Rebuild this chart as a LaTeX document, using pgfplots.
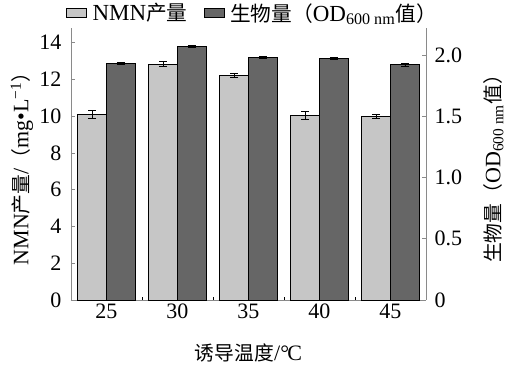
\documentclass[border=0pt]{standalone}
\usepackage{fontspec}
\setmainfont{Liberation Serif}
\newfontfamily\cjk[Scale=0.9]{Noto Sans CJK SC}
\usepackage{pgfplots}
\pgfplotsset{compat=1.18}
\definecolor{lightbar}{HTML}{C6C6C6}
\definecolor{darkbar}{HTML}{666666}
\definecolor{axgray}{HTML}{8A8A8A}
\newcommand{\zh}[1]{{\cjk #1}}
\pgfplotsset{
  common/.style={
    scale only axis, width=355pt, height=272pt,
    xmin=-0.5, xmax=4.5,
    tick align=inside,
    axis line style={axgray, line width=0.8pt},
    major tick length=4pt,
    tick label style={font=\fontsize{22}{26}\selectfont},
    label style={font=\fontsize{22}{26}\selectfont},
    /pgf/number format/assume math mode=true,
    clip=false,
  },
  legend image code/.code={\draw[#1] (0pt,-4.5pt) rectangle (20pt,4.5pt); \path[draw=none,fill=none] (24pt,0pt);},
}
\begin{document}
\begin{tikzpicture}
\path[use as bounding box] (-71pt,-69pt) rectangle (438pt,300pt);
\begin{axis}[common,
  ymin=0, ymax=14.8,
  axis x line*=bottom, axis y line*=left,
  xtick={0,...,4}, xticklabels={25,30,35,40,45},
  major x tick style={draw=none},
  minor xtick={0.5,1.5,2.5,3.5},
  minor x tick style={black, line width=0.6pt}, minor tick length=3pt,
  ytick={0,2,...,14},
  yticklabel style={xshift=-6pt},
  y tick style={axgray, line width=0.8pt},
  ylabel={NMN\zh{产量}/\zh{（}mg•L\textsuperscript{−1}\zh{）}},
  ylabel style={at={(axis description cs:-0.138,0.5)}, anchor=center},
  xlabel={\zh{诱导温度}/°\kern-0.08em C},
  xlabel style={at={(axis description cs:0.5,-0.195)}, anchor=center},
]
\addplot[ybar, bar width=29pt, bar shift=0pt, fill=lightbar, draw=black, line width=0.7pt,
  error bars/.cd, y dir=both, y explicit,
  error bar style={black, line width=0.8pt},
  error mark options={rotate=90, mark size=4pt, black, line width=0.8pt}]
  table[x=x, y=y, y error=e] {
x y e
-0.2042 10.08 0.22
0.7958 12.83 0.13
1.7958 12.23 0.12
2.7958 10.03 0.22
3.7958 9.98 0.10
};
\end{axis}
\begin{axis}[common,
  ymin=0, ymax=2.22,
  axis x line=none, axis y line*=right,
  ytick={0,0.5,1.0,1.5,2.0}, yticklabels={0,0.5,1.0,1.5,2.0},
  yticklabel style={xshift=5pt},
  y tick style={axgray, line width=0.8pt},
  ylabel={\zh{生物量（}OD\textsubscript{600 nm}\zh{值）}},
  ylabel style={at={(axis description cs:1.19,0.5)}, anchor=center},
  legend columns=2,
  legend style={at={(axis description cs:0.5,1.055)}, anchor=center, xshift=4pt,
    draw=none, fill=none,
    font=\fontsize{23}{26}\selectfont,
    nodes={inner xsep=2pt},
    /tikz/every even column/.append style={column sep=14pt}},
]
\addlegendimage{fill=lightbar, draw=black, line width=0.7pt}
\addlegendentry{NMN\zh{产量}}
\addplot[ybar, bar width=29pt, bar shift=0pt, fill=darkbar, draw=black, line width=0.7pt,
  error bars/.cd, y dir=both, y explicit,
  error bar style={black, line width=0.8pt},
  error mark options={rotate=90, mark size=4pt, black, line width=0.8pt}]
  table[x=x, y=y, y error=e] {
x y e
0.2042 1.93 0.01
1.2042 2.07 0.01
2.2042 1.98 0.01
3.2042 1.97 0.01
4.2042 1.92 0.01
};
\addlegendentry{\zh{生物量（}OD\textsubscript{600 nm}\zh{值）}}
\end{axis}
\end{tikzpicture}
\end{document}
